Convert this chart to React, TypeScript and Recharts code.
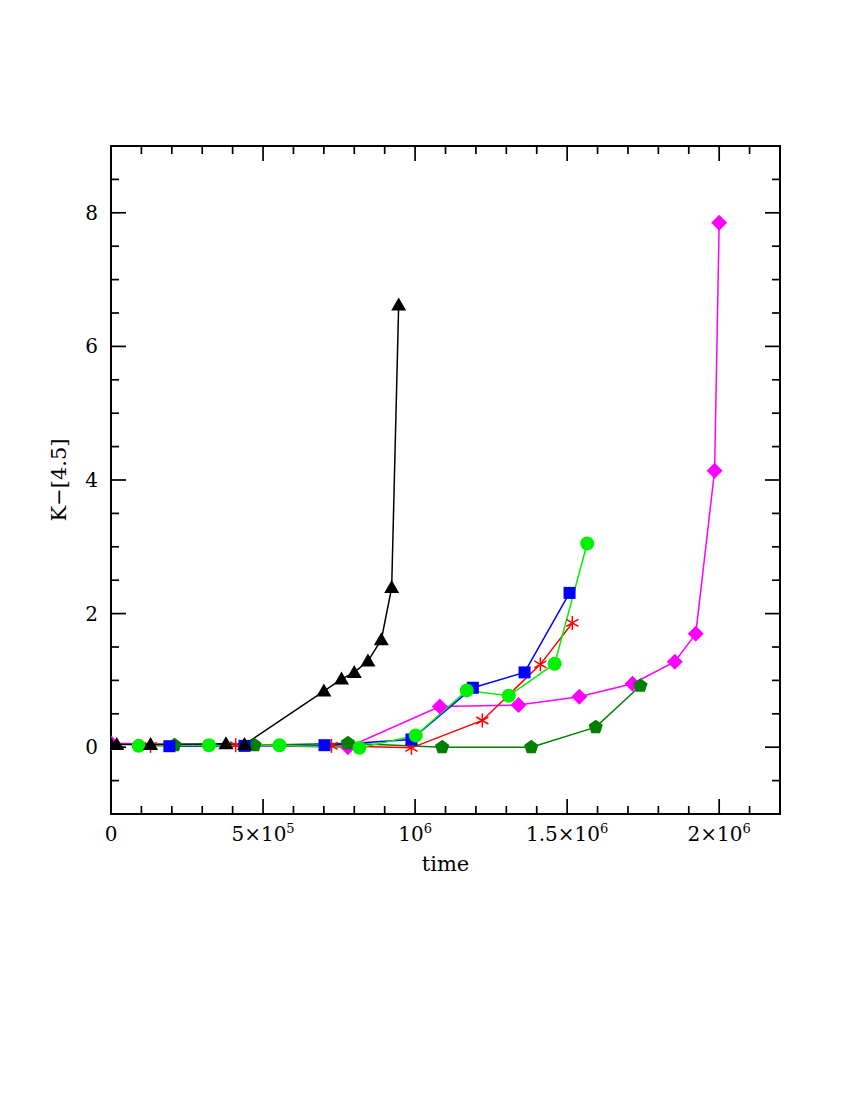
import { LineChart, Line, XAxis, YAxis, ReferenceArea } from 'recharts';

// time (yr) and K-[4.5] colour for each track
const blackTime = [0, 19000, 130000, 378000, 439000, 700000, 758000, 800000, 845000, 889000, 923000, 946000];
const blackColor = [0.04, 0.04, 0.04, 0.05, 0.04, 0.84, 1.02, 1.12, 1.29, 1.61, 2.39, 6.62];

const redTime = [130000, 410000, 725000, 988000, 1221000, 1412000, 1517000];
const redColor = [0.02, 0.03, 0.02, -0.01, 0.4, 1.24, 1.86];

const blueTime = [192000, 439000, 702000, 988000, 1190000, 1360000, 1508000];
const blueColor = [0.015, 0.02, 0.03, 0.115, 0.89, 1.12, 2.31];

const greenTime = [91000, 322000, 554000, 817000, 1002000, 1170000, 1308000, 1459000, 1566000];
const greenColor = [0.02, 0.03, 0.03, -0.01, 0.175, 0.85, 0.77, 1.25, 3.05];

const darkTime = [209000, 472000, 779000, 1089000, 1382000, 1594000, 1741000];
const darkColor = [0.03, 0.03, 0.06, 0.0, 0.0, 0.3, 0.92];

const magentaTime = [0, 779000, 1081000, 1340000, 1540000, 1715000, 1854000, 1923000, 1985000, 2000000];
const magentaColor = [0.06, 0.0, 0.61, 0.63, 0.755, 0.95, 1.28, 1.7, 4.14, 7.85];

const xTicks = Array.from({ length: 23 }, (_, i) => i * 100000);
const yTicks = Array.from({ length: 21 }, (_, i) => -1 + i * 0.5);
const xMajorLabels: Record<number, [string, string]> = {
  0: ['0', ''],
  500000: ['5×10', '5'],
  1000000: ['10', '6'],
  1500000: ['1.5×10', '6'],
  2000000: ['2×10', '6'],
};

const toPoints = (t: number[], c: number[]) => t.map((v, i) => ({ t: v, c: c[i] }));

const W = 834;
const H = 900;
const MARGIN = { top: 138, right: 62, bottom: 34, left: 43 };
const Y_W = 60;
const X_H = 60;
const PLOT_W = W - MARGIN.left - MARGIN.right - Y_W;
const PLOT_H = H - MARGIN.top - MARGIN.bottom - X_H;
const FONT = "'DejaVu Serif', serif";
const TICK_STROKE = 1.7;

const XTick = (props: any) => {
  const { x, y, payload } = props;
  const axisY = y - 12;
  const v = payload.value;
  const major = Math.round(v) % 500000 === 0;
  const len = major ? 15 : 8;
  const lab = xMajorLabels[Math.round(v)];
  return (
    <g>
      <line x1={x} x2={x} y1={axisY} y2={axisY - len} stroke="#000" strokeWidth={TICK_STROKE} />
      <line x1={x} x2={x} y1={axisY - PLOT_H} y2={axisY - PLOT_H + len} stroke="#000" strokeWidth={TICK_STROKE} />
      {major && lab && (
        <text x={x} y={axisY + 27} textAnchor="middle" fontFamily={FONT} fontSize={20} fill="#000">
          {lab[0]}
          {lab[1] && (
            <tspan dy={-8} fontSize={13}>
              {lab[1]}
            </tspan>
          )}
        </text>
      )}
    </g>
  );
};

const YTick = (props: any) => {
  const { x, y, payload } = props;
  const axisX = x + 13;
  const v = payload.value;
  const major = Math.abs(v / 2 - Math.round(v / 2)) < 1e-6;
  const len = major ? 15 : 8;
  return (
    <g>
      <line x1={axisX} x2={axisX + len} y1={y} y2={y} stroke="#000" strokeWidth={TICK_STROKE} />
      <line x1={axisX + PLOT_W} x2={axisX + PLOT_W - len} y1={y} y2={y} stroke="#000" strokeWidth={TICK_STROKE} />
      {major && (
        <text x={x} y={y + 7} textAnchor="end" fontFamily={FONT} fontSize={20} fill="#000">
          {String(Math.round(v))}
        </text>
      )}
    </g>
  );
};

const YLabel = (props: any) => {
  const vb = props.viewBox ?? { x: MARGIN.left, y: MARGIN.top, width: Y_W, height: PLOT_H };
  const cx = vb.x + vb.width - 45;
  const cy = vb.y + vb.height / 2;
  return (
    <text x={cx} y={cy} transform={`rotate(-90 ${cx} ${cy})`} textAnchor="middle" fontFamily={FONT} fontSize={21} fill="#000">
      K−[4.5]
    </text>
  );
};

const XLabel = (props: any) => {
  const vb = props.viewBox ?? { x: MARGIN.left + Y_W, y: MARGIN.top + PLOT_H, width: PLOT_W, height: X_H };
  return (
    <text x={vb.x + vb.width / 2} y={vb.y + 57} textAnchor="middle" fontFamily={FONT} fontSize={21} fill="#000">
      time
    </text>
  );
};

const triangle = (color: string) => (p: any) => (
  <polygon
    key={`tri-${p.index}`}
    points={`${p.cx},${p.cy - 7.5} ${p.cx - 7.5},${p.cy + 5.5} ${p.cx + 7.5},${p.cy + 5.5}`}
    fill={color}
  />
);

const square = (color: string) => (p: any) => (
  <rect key={`sq-${p.index}`} x={p.cx - 6} y={p.cy - 6} width={12} height={12} fill={color} />
);

const circle = (color: string) => (p: any) => <circle key={`ci-${p.index}`} cx={p.cx} cy={p.cy} r={7} fill={color} />;

const diamond = (color: string) => (p: any) => (
  <polygon
    key={`di-${p.index}`}
    points={`${p.cx},${p.cy - 8} ${p.cx + 8},${p.cy} ${p.cx},${p.cy + 8} ${p.cx - 8},${p.cy}`}
    fill={color}
  />
);

const pentagon = (color: string) => (p: any) => {
  const pts = [0, 1, 2, 3, 4]
    .map((k) => {
      const a = ((-90 + k * 72) * Math.PI) / 180;
      return `${p.cx + 7.5 * Math.cos(a)},${p.cy + 7.5 * Math.sin(a)}`;
    })
    .join(' ');
  return <polygon key={`pe-${p.index}`} points={pts} fill={color} />;
};

const asterisk = (color: string) => (p: any) => {
  const r = 7;
  const dx = r * Math.cos(Math.PI / 6);
  const dy = r * Math.sin(Math.PI / 6);
  return (
    <g key={`as-${p.index}`} stroke={color} strokeWidth={1.5}>
      <line x1={p.cx} y1={p.cy - r} x2={p.cx} y2={p.cy + r} />
      <line x1={p.cx - dx} y1={p.cy - dy} x2={p.cx + dx} y2={p.cy + dy} />
      <line x1={p.cx - dx} y1={p.cy + dy} x2={p.cx + dx} y2={p.cy - dy} />
    </g>
  );
};

const series = [
  { name: 'magenta', color: '#ff00ff', data: toPoints(magentaTime, magentaColor), dot: diamond('#ff00ff') },
  { name: 'darkgreen', color: '#007f00', data: toPoints(darkTime, darkColor), dot: pentagon('#007f00') },
  { name: 'red', color: '#ff0000', data: toPoints(redTime, redColor), dot: asterisk('#ff0000') },
  { name: 'blue', color: '#0000ff', data: toPoints(blueTime, blueColor), dot: square('#0000ff') },
  { name: 'green', color: '#00f000', data: toPoints(greenTime, greenColor), dot: circle('#00f000') },
  { name: 'black', color: '#000000', data: toPoints(blackTime, blackColor), dot: triangle('#000000') },
];

export default function App() {
  return (
    <div style={{ width: W, height: H }}>
      <LineChart width={W} height={H} margin={MARGIN}>
        <XAxis
          type="number"
          dataKey="t"
          domain={[0, 2200000]}
          allowDataOverflow
          ticks={xTicks}
          interval={0}
          tick={<XTick />}
          tickSize={0}
          tickMargin={12}
          tickLine={false}
          axisLine={false}
          height={X_H}
          label={{ content: <XLabel /> }}
        />
        <YAxis
          type="number"
          dataKey="c"
          domain={[-1, 9]}
          allowDataOverflow
          ticks={yTicks}
          interval={0}
          tick={<YTick />}
          tickSize={0}
          tickMargin={13}
          tickLine={false}
          axisLine={false}
          width={Y_W}
          label={{ content: <YLabel /> }}
        />
        <ReferenceArea
          x1={0}
          x2={2200000}
          y1={-1}
          y2={9}
          fill="none"
          fillOpacity={0}
          stroke="#000"
          strokeWidth={2}
          ifOverflow="visible"
        />
        {series.map((s) => (
          <Line
            key={s.name}
            data={s.data}
            dataKey="c"
            type="linear"
            stroke={s.color}
            strokeWidth={1.5}
            dot={s.dot}
            activeDot={false}
            isAnimationActive={false}
          />
        ))}
      </LineChart>
    </div>
  );
}
